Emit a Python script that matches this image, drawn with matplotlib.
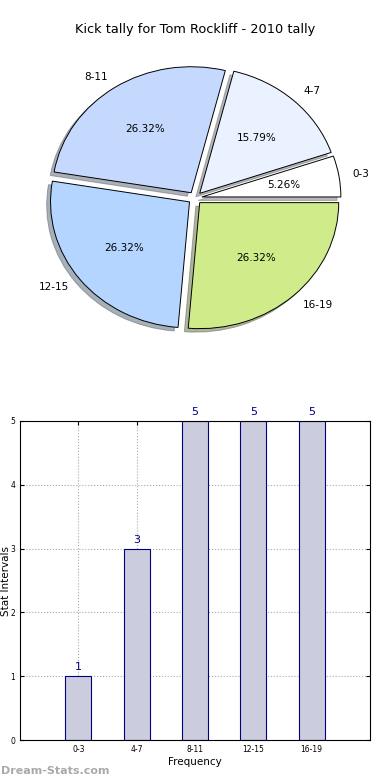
import numpy as np
import matplotlib
matplotlib.use('Agg')
import matplotlib.pyplot as plt

# ── Data ────────────────────────────────
categories = ['0-3', '4-7', '8-11', '12-15', '16-19']
counts = [1, 3, 5, 5, 5]
pie_colors = ['#ffffff', '#ebf2ff', '#c5d9ff', '#b4d5ff', '#d0eb8a']
title = 'Kick tally for Tom Rockliff - 2010 tally'

W, H = 390, 780
fig = plt.figure(figsize=(W / 100, H / 100), dpi=100)

# ── Pie (old-style, not forced round) ────────────────────────────────
RX, RY = 139, 126  # pixels per unit radius
cx, cy = 195, 198
hx, hy = 1.4 * RX, 1.4 * RY
ax1 = fig.add_axes([(cx - hx) / W, (H - cy - hy) / H, 2 * hx / W, 2 * hy / H])
ax1.pie(counts, labels=categories, colors=pie_colors, explode=[0.05] * len(counts),
        autopct='%.2f%%', shadow={'ox': -0.02, 'oy': -0.02, 'shade': 0.55},
        startangle=0, labeldistance=1.1,
        wedgeprops={'edgecolor': 'black', 'linewidth': 0.7},
        textprops={'fontsize': 7.5})
ax1.set_aspect('auto')
ax1.set_xlim(-1.4, 1.4)
ax1.set_ylim(-1.4, 1.4)
ax1.axis('off')
fig.text(0.5, 1 - 30 / H, title, ha='center', va='center', fontsize=9.3)

# ── Bars ────────────────────────────────
ax2 = fig.add_axes([20 / W, 40 / H, 350 / W, 319 / H])
x = np.arange(len(categories))
ax2.bar(x, counts, width=0.45, color='#ccccdf', edgecolor='navy', linewidth=0.8, zorder=2)
for xi, c in zip(x, counts):
    ax2.text(xi, c + 0.06, str(c), ha='center', va='bottom', color='navy', fontsize=8)
ax2.set_xlim(-1, 5)
ax2.set_ylim(0, 5)
ax2.set_xticks(x)
ax2.set_xticklabels(categories)
ax2.set_yticks(range(6))
ax2.tick_params(labelsize=5.5, direction='in', top=True, right=True, length=3)
ax2.grid(True, linestyle=':', color='#aaaaaa', linewidth=0.8, zorder=0)
ax2.set_axisbelow(True)
ax2.set_xlabel('Frequency', fontsize=7.5, labelpad=2)
ax2.set_ylabel('Stat Intervals', fontsize=7.5)
ax2.yaxis.set_label_coords(-9 / 350, 0.5)
for s in ax2.spines.values():
    s.set_linewidth(0.8)

fig.text(1 / W, 1 - 771 / H, 'Dream-Stats.com', ha='left', va='center',
         fontsize=8, color='#aaaaaa', fontweight='bold')

fig.savefig('out.png', dpi=100)
